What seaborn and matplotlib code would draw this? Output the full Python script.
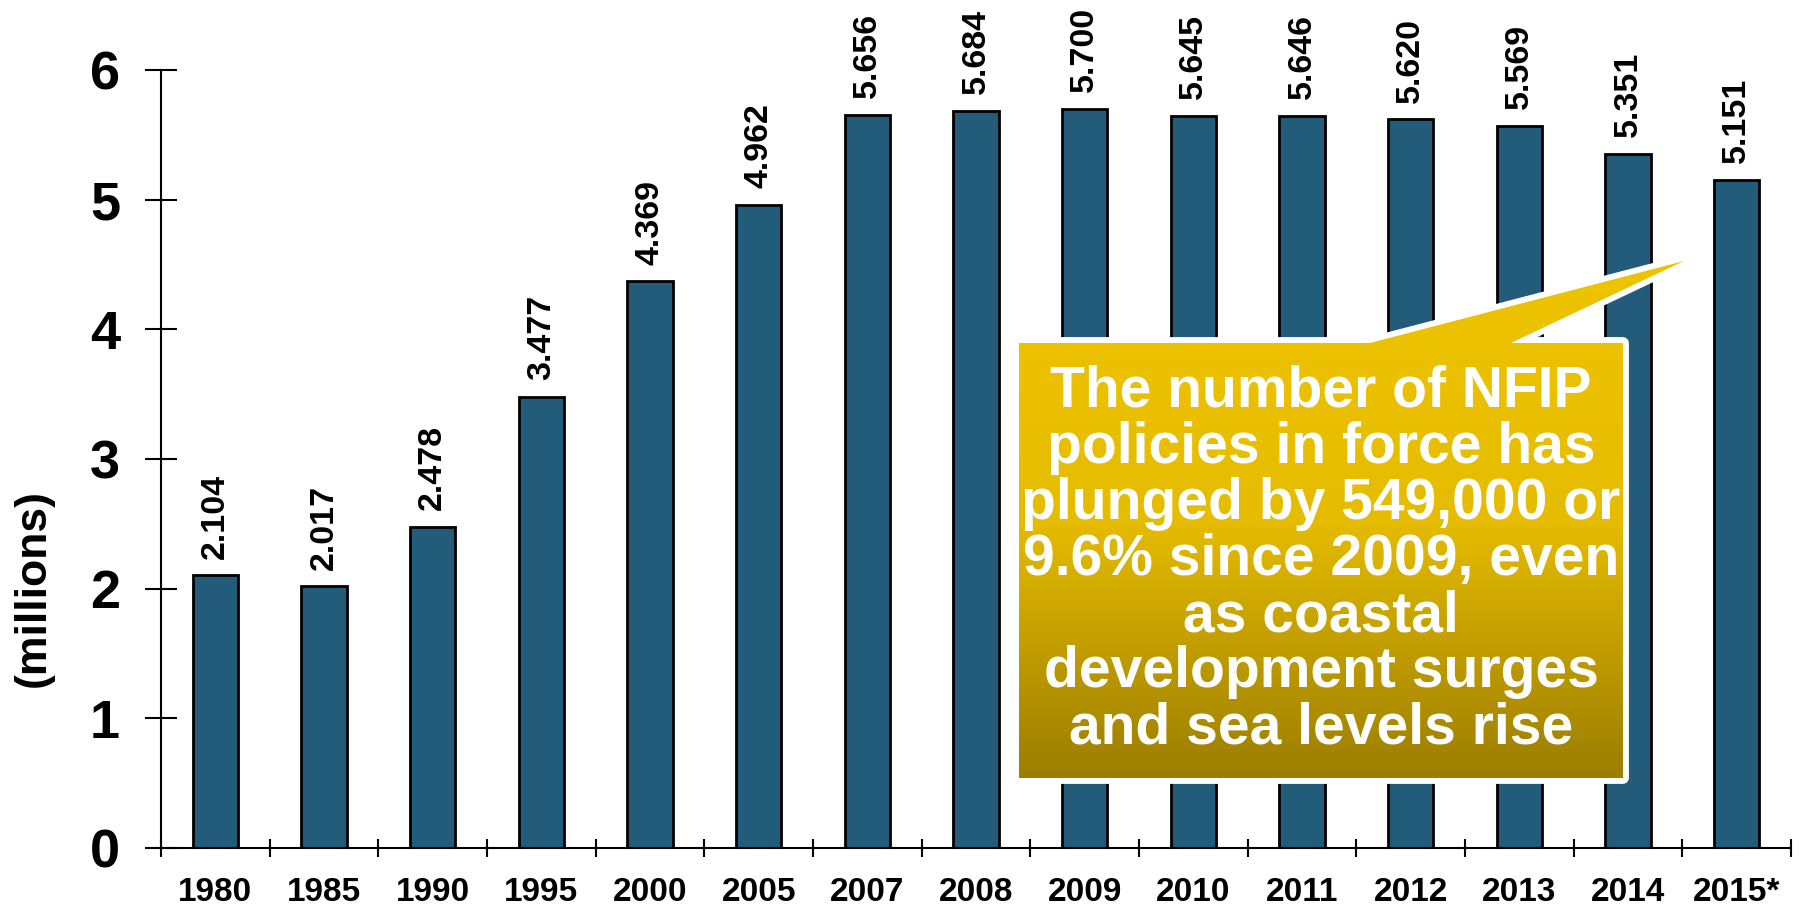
import numpy as np
import pandas as pd
import seaborn as sns
import matplotlib.pyplot as plt
from matplotlib.path import Path
from matplotlib.patches import PathPatch
from matplotlib.colors import LinearSegmentedColormap

# Data
years = ["1980", "1985", "1990", "1995", "2000", "2005", "2007", "2008",
         "2009", "2010", "2011", "2012", "2013", "2014", "2015*"]
policies = [2.104, 2.017, 2.478, 3.477, 4.369, 4.962, 5.656, 5.684,
            5.700, 5.645, 5.646, 5.620, 5.569, 5.351, 5.151]
y_ticks = [0, 1, 2, 3, 4, 5, 6]
callout = ("The number of NFIP\npolicies in force has\nplunged by 549,000 or\n"
           "9.6% since 2009, even\nas coastal\ndevelopment surges\nand sea levels rise")

df = pd.DataFrame({"Year": years, "Policies": policies})

sns.set_style("ticks")
plt.rcParams["font.family"] = ["Liberation Sans", "DejaVu Sans"]
plt.rcParams.update({"text.color": "black", "axes.labelcolor": "black",
                     "xtick.color": "black", "ytick.color": "black"})

W, H = 1806, 923
fig = plt.figure(figsize=(W / 100, H / 100), dpi=100)
ax = fig.add_axes([161 / W, 1 - 848 / H, (1791 - 161) / W, (848 - 70) / H])

sns.barplot(data=df, x="Year", y="Policies", color="#235B7A", saturation=1,
            width=0.42, edgecolor="black", linewidth=2, ax=ax)

# value labels above bars
for i, v in enumerate(policies):
    ax.annotate(f"{v:.3f}", (i, v), xytext=(0, 12), textcoords="offset points",
                rotation=90, ha="center", va="bottom", fontsize=24.5,
                fontweight="bold", color="black", annotation_clip=False)

ax.set_ylim(0, 6)
ax.set_xlim(-0.5, len(years) - 0.5)
ax.set_yticks(y_ticks)
ax.set_yticklabels([str(t) for t in y_ticks], fontsize=39, fontweight="bold")
ax.set_xticks(range(len(years)))
ax.set_xticklabels(years, fontsize=24, fontweight="bold",
                   family=["Liberation Sans Narrow", "Liberation Sans"])
ax.set_xticks(np.arange(-0.5, len(years), 1), minor=True)
ax.tick_params(axis="x", which="major", length=0, pad=21)
ax.tick_params(axis="x", which="minor", direction="inout", length=13, width=1.5)
ax.tick_params(axis="y", which="major", direction="inout", length=23, width=1.5, pad=18)
ax.set_xlabel("")
ax.set_ylabel("")
for s in ["top", "right"]:
    ax.spines[s].set_visible(False)
for s in ["left", "bottom"]:
    ax.spines[s].set_linewidth(1.5)
    ax.spines[s].set_color("black")

fig.text(33 / W, 1 - 588 / H, "(millions)", rotation=90, ha="center", va="center",
         fontsize=32, fontweight="bold", color="black")

# callout box with gradient fill, drawn in pixel coords
ov = fig.add_axes([0, 0, 1, 1], zorder=5)
ov.axis("off")
verts = [(1019, 343), (1370, 343), (1684, 261), (1511, 343), (1623, 343),
         (1623, 778), (1019, 778), (1019, 343)]
codes = [Path.MOVETO] + [Path.LINETO] * 6 + [Path.CLOSEPOLY]
path = Path(verts, codes)
outline = PathPatch(path, facecolor="white", edgecolor="white", linewidth=8.5,
                    joinstyle="round", zorder=1)
ov.add_patch(outline)
clip = PathPatch(path, facecolor="none", edgecolor="none")
ov.add_patch(clip)
cmap = LinearSegmentedColormap.from_list("gold", ["#EEC400", "#E6BC00", "#9C7E00"])
grad = np.linspace(0, 1, 256).reshape(-1, 1)
im = ov.imshow(grad, extent=(1019, 1684, 778, 261), aspect="auto", cmap=cmap,
               origin="upper", interpolation="bilinear", zorder=2)
im.set_clip_path(clip)
ov.set_xlim(0, W)
ov.set_ylim(H, 0)
ov.text(1321, 560, callout, ha="center", va="center", color="white", zorder=3,
        fontsize=41, fontweight="bold", linespacing=1.05, multialignment="center")

plt.savefig("out.png", dpi=100)
